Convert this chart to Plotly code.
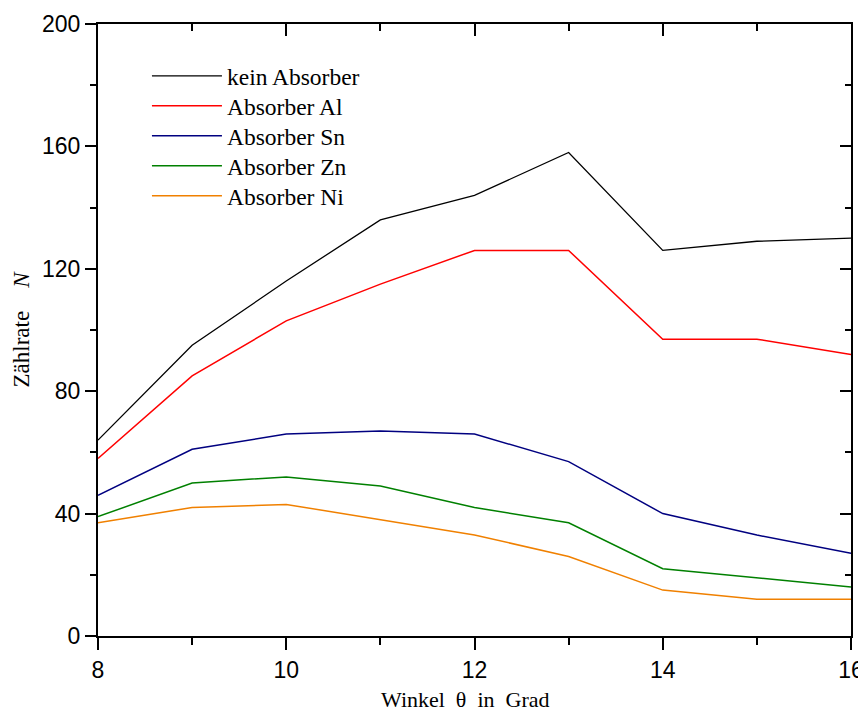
import plotly.graph_objects as go

winkel = [8, 9, 10, 11, 12, 13, 14, 15, 16]
kein_absorber = [64, 95, 116, 136, 144, 158, 126, 129, 130]
absorber_al = [58, 85, 103, 115, 126, 126, 97, 97, 92]
absorber_sn = [46, 61, 66, 67, 66, 57, 40, 33, 27]
absorber_zn = [39, 50, 52, 49, 42, 37, 22, 19, 16]
absorber_ni = [37, 42, 43, 38, 33, 26, 15, 12, 12]

series = [
    ("kein Absorber", kein_absorber, "#000000", 1.3),
    ("Absorber Al", absorber_al, "#FF0000", 1.5),
    ("Absorber Sn", absorber_sn, "#000080", 1.5),
    ("Absorber Zn", absorber_zn, "#008000", 1.5),
    ("Absorber Ni", absorber_ni, "#F08000", 1.5),
]

serif = "Liberation Serif, Times New Roman"
legend_rows_y = [0.915, 0.866, 0.817, 0.768, 0.719]
legend_names = ["legend", "legend2", "legend3", "legend4", "legend5"]

fig = go.Figure()
for (name, vals, col, w), lg in zip(series, legend_names):
    fig.add_trace(go.Scatter(x=winkel, y=vals, mode="lines", name=name,
                             legend=lg, line=dict(color=col, width=w)))

legend_layout = {}
for lg, ly in zip(legend_names, legend_rows_y):
    legend_layout[lg] = dict(x=0.065, y=ly, xanchor="left", yanchor="middle",
                             bgcolor="rgba(0,0,0,0)", borderwidth=0,
                             font=dict(family=serif, size=23.5, color="black"),
                             itemwidth=70)

tickfont = dict(family="Liberation Sans, Arial", size=23, color="black")
nb = "\u00a0"

fig.update_layout(
    width=858, height=705,
    paper_bgcolor="white", plot_bgcolor="white",
    margin=dict(l=90, r=15, t=16, b=77),
    showlegend=True,
    **legend_layout,
    xaxis=dict(range=[8, 16], dtick=2, tick0=8, ticks="outside", ticklen=12,
               tickwidth=2, tickcolor="black", showline=True, linecolor="black",
               linewidth=2, showgrid=False, zeroline=False, tickfont=tickfont,
               automargin=False,
               minor=dict(dtick=1, ticks="outside", ticklen=7, tickwidth=2,
                          tickcolor="black", showgrid=False)),
    yaxis=dict(range=[0, 200], dtick=40, ticks="outside", ticklen=11,
               tickwidth=2, tickcolor="black", showline=True, linecolor="black",
               linewidth=2, showgrid=False, zeroline=False, tickfont=tickfont,
               automargin=False,
               minor=dict(dtick=20, ticks="outside", ticklen=6, tickwidth=2,
                          tickcolor="black", showgrid=False),
               title=dict(text="Zählrate" + nb * 4 + "<i>N</i>",
                          font=dict(family=serif, size=23, color="black"),
                          standoff=6)),
    xaxis2=dict(overlaying="x", matches="x", side="top", range=[8, 16],
                dtick=2, tick0=8, ticks="inside", ticklen=12, tickwidth=2,
                tickcolor="black", showline=True, linecolor="black",
                linewidth=2, showgrid=False, zeroline=False,
                showticklabels=False, automargin=False,
                minor=dict(dtick=1, ticks="inside", ticklen=7, tickwidth=2,
                           tickcolor="black", showgrid=False)),
    yaxis2=dict(overlaying="y", matches="y", side="right", range=[0, 200],
                dtick=40, ticks="inside", ticklen=11, tickwidth=2,
                tickcolor="black", showline=True, linecolor="black",
                linewidth=2, showgrid=False, zeroline=False,
                showticklabels=False, automargin=False,
                minor=dict(dtick=20, ticks="inside", ticklen=6, tickwidth=2,
                           tickcolor="black", showgrid=False)),
    annotations=[dict(text="Winkel" + nb * 2 + "θ" + nb * 2 + "in" + nb * 2 + "Grad",
                      xref="paper", yref="paper", x=0.4874, y=-0.103,
                      xanchor="center", yanchor="middle", showarrow=False,
                      font=dict(family=serif, size=22, color="black"))],
)

# invisible trace to activate mirrored axes
fig.add_trace(go.Scatter(x=[winkel[0]], y=[kein_absorber[0]], xaxis="x2",
                         yaxis="y2", mode="lines", showlegend=False,
                         hoverinfo="skip", line=dict(width=0)))

fig.write_html("out.html")
